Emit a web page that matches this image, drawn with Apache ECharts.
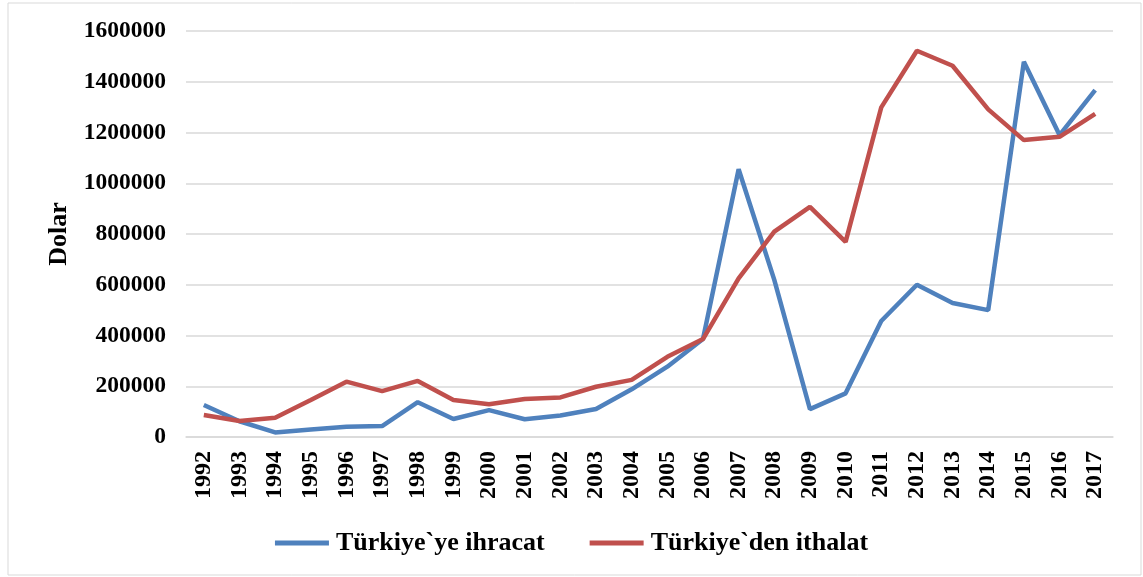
<!DOCTYPE html>
<html><head><meta charset="utf-8">
<script src="https://cdn.jsdelivr.net/npm/echarts@6/dist/echarts.min.js"></script>
<style>html,body{margin:0;padding:0;background:#fff}#c{width:1143px;height:577px}</style>
</head><body><div id="c"></div>
<script>
const years = ['1992','1993','1994','1995','1996','1997','1998','1999','2000','2001','2002','2003','2004','2005','2006','2007','2008','2009','2010','2011','2012','2013','2014','2015','2016','2017'];
const exportsToTurkey = [126000,62000,18000,30000,40000,43000,137000,71000,106000,70000,85000,110000,188000,277000,386000,1055000,619000,110000,172000,457000,600000,528000,500000,1479000,1190000,1367000];
const importsFromTurkey = [87000,63000,76000,146000,218000,181000,221000,146000,129000,150000,156000,198000,225000,316000,386000,625000,809000,907000,769000,1299000,1522000,1463000,1291000,1170000,1183000,1273000];
const seriesNames = ['Türkiye`ye ihracat','Türkiye`den ithalat'];
const yTicks = {min:0,max:1600000,interval:200000};

const font = 'Liberation Serif, Times New Roman, serif';
const chart = echarts.init(document.getElementById('c'));
chart.setOption({
  animation:false,
  backgroundColor:'#fff',
  graphic:[{type:'rect',shape:{x:8,y:3,width:1133,height:572},style:{fill:'none',stroke:'#d9d9d9',lineWidth:1}}],
  grid:{left:186,right:30,top:31,bottom:140},
  legend:{
    bottom:16,left:'center',itemWidth:54,itemHeight:5,itemGap:45,
    icon:'rect',
    textStyle:{fontFamily:font,fontWeight:'bold',fontSize:26,color:'#000',padding:[0,0,0,2]},
    data:seriesNames
  },
  xAxis:{
    type:'category',data:years,boundaryGap:true,
    axisLine:{lineStyle:{color:'#d9d9d9',width:1.5}},
    axisTick:{show:false},
    axisLabel:{rotate:90,fontFamily:font,fontWeight:'bold',fontSize:24,color:'#000',margin:14,interval:0}
  },
  yAxis:{
    type:'value',min:yTicks.min,max:yTicks.max,interval:yTicks.interval,
    name:'Dolar',nameLocation:'middle',nameRotate:90,nameGap:114,
    nameTextStyle:{fontFamily:font,fontWeight:'bold',fontSize:26,color:'#000'},
    axisLine:{show:false},axisTick:{show:false},
    splitLine:{lineStyle:{color:'#d9d9d9',width:1.5}},
    axisLabel:{fontFamily:font,fontWeight:'bold',fontSize:23.5,color:'#000',margin:20,formatter:v=>String(v)}
  },
  series:[
    {name:seriesNames[0],type:'line',data:exportsToTurkey,symbol:'none',lineStyle:{width:4.5,color:'#4F81BD'},itemStyle:{color:'#4F81BD'}},
    {name:seriesNames[1],type:'line',data:importsFromTurkey,symbol:'none',lineStyle:{width:4.5,color:'#C0504D'},itemStyle:{color:'#C0504D'}}
  ]
});
</script></body></html>
